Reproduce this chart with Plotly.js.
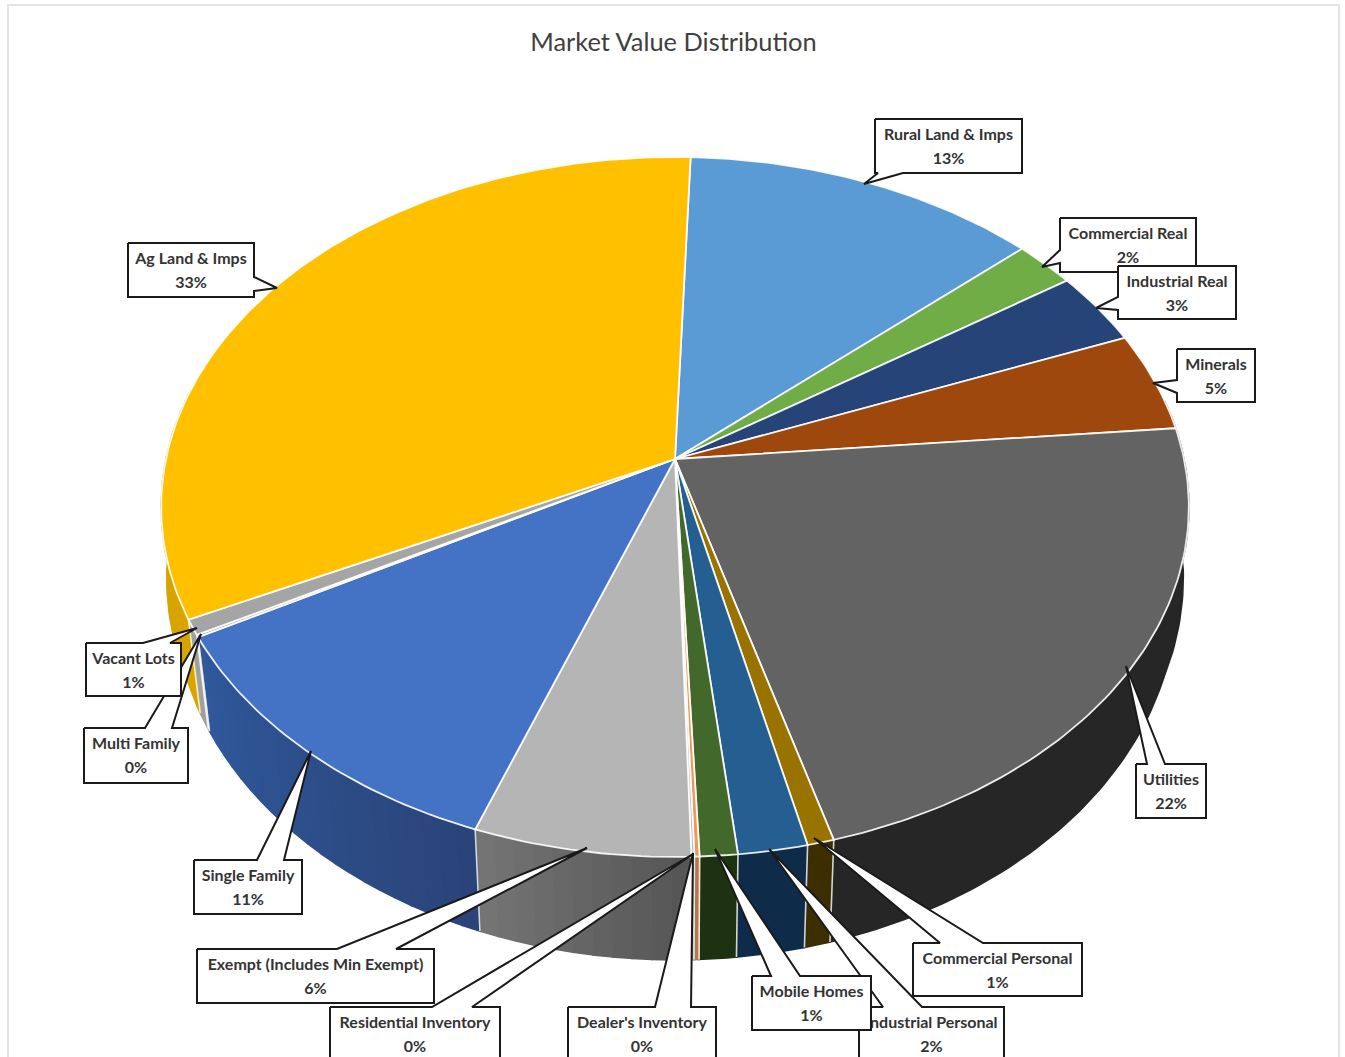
<!DOCTYPE html>
<html>
<head>
<meta charset="utf-8">
<script src="https://cdn.plot.ly/plotly-3.0.1.min.js"></script>
<style>html,body{margin:0;padding:0;background:#fff;overflow:hidden}</style>
</head>
<body>
<div id="chart" style="width:1345px;height:1057px"></div>
<script>
// Slices, clockwise from the top of the pie
const sliceNames = ["Rural Land & Imps","Commercial Real","Industrial Real","Minerals","Utilities","Commercial Personal","Industrial Personal","Mobile Homes","Dealer's Inventory","Residential Inventory","Exempt (Includes Min Exempt)","Single Family","Multi Family","Vacant Lots","Ag Land & Imps"];
const sliceValues = [12.8,2.2,3.4,4.6,22.08,0.74,1.92,1.04,0.14,0.08,6.0,11.4,0.1,0.7,32.8];
const sliceLabels = ["13%","2%","3%","5%","22%","1%","2%","1%","0%","0%","6%","11%","0%","1%","33%"];
const topColors = ["#5B9BD5","#70AD47","#264478","#9E480E","#636363","#997300","#255E91","#43682B","#F1975A","#B7B7B7","#B5B5B5","#4472C4","#A5A5A5","#A5A5A5","#FFC000"];
const sideStart = ["#3F6F99","#4F7A32","#1B3055","#70330A","#262626","#3D2E00","#0F2B4A","#1D3211","#B5774C","#8A8A8A","#545454","#2A4478","#A0A0A0","#A0A0A0","#D9A300"];
const sideEnd   = ["#3F6F99","#4F7A32","#1B3055","#70330A","#262626","#3D2E00","#0F2B4A","#1D3211","#B5774C","#8A8A8A","#757575","#30589B","#A0A0A0","#A0A0A0","#D9A300"];

// Projection of the tilted pie onto the page
const view = {cx:675, cy:459, A:509, B:343.4, k:0.137, sx:0.976, sxWide:0.016, sy:1.04, dy:87, start:2};
function rim(deg, lower){
  const t = deg*Math.PI/180, u = Math.sin(t), v = -Math.cos(t), w = 1 - view.k*v;
  const X = u*view.A/w, Y = v*view.B/w;
  if(!lower) return [view.cx + X, view.cy + Y];
  const sx = view.sx + view.sxWide*Math.min(1,Math.max(0,(130-Y)/110));
  return [view.cx + X*sx, view.cy + Y*view.sy + view.dy];
}
function arc(a0, a1, lower){
  const n = Math.max(1, Math.ceil(Math.abs(a1-a0))), pts = [];
  for(let i=0;i<=n;i++) pts.push(rim(a0+(a1-a0)*i/n, lower));
  return pts;
}
function hex(c){return [1,3,5].map(i=>parseInt(c.substr(i,2),16));}
function mix(a,b,f){const A=hex(a),B=hex(b);return "rgb("+A.map((x,i)=>Math.round(x+(B[i]-x)*f)).join(",")+")";}
function poly(pts, fill, line, width){
  const xs = pts.map(p=>p[0]), ys = pts.map(p=>p[1]);
  xs.push(xs[0]); ys.push(ys[0]);
  return {type:"scatter",mode:"lines",x:xs,y:ys,fill:fill?"toself":"none",fillcolor:fill||undefined,
          line:{color:line,width:width},hoverinfo:"skip",showlegend:false};
}

const traces = [];
const total = sliceValues.reduce((a,b)=>a+b,0);
const bounds = [view.start];
sliceValues.forEach(v=>bounds.push(bounds[bounds.length-1]+v/total*360));

// Side wall, in short strips so that the shading runs along the wall
sliceValues.forEach((v,i)=>{
  const a0 = Math.max(bounds[i],80), a1 = Math.min(bounds[i+1],282);
  if(a1<=a0) return;
  const uniform = sideStart[i]===sideEnd[i];
  const n = uniform ? 1 : Math.ceil((a1-a0)/2);
  for(let s=0;s<n;s++){
    const p = a0+(a1-a0)*s/n, q = a0+(a1-a0)*(s+1)/n;
    const col = mix(sideStart[i],sideEnd[i],(s+0.5)/n);
    traces.push(poly(arc(p,q,false).concat(arc(q,p,true)),col,col,1.6));
  }
});
// Pale seams between wall sections
sliceValues.forEach((v,i)=>{
  if(bounds[i]>=150 && bounds[i]<=282) traces.push({type:"scatter",mode:"lines",
     x:[rim(bounds[i],false)[0],rim(bounds[i],true)[0]],y:[rim(bounds[i],false)[1],rim(bounds[i],true)[1]],
     line:{color:"rgba(255,255,255,0.8)",width:1.6},hoverinfo:"skip",showlegend:false});
});

// Top face
sliceValues.forEach((v,i)=>{
  const pts = [[view.cx,view.cy]].concat(arc(bounds[i],bounds[i+1],false));
  traces.push(poly(pts,topColors[i],"rgba(255,255,255,0.9)",1.8));
});

// Callout boxes: x0,y0,x1,y1, side of the pointer, its base on that side, and its tip
const callouts = {
 "Ag Land & Imps":[128,243,254,297,"r",277,291,277,288],
 "Rural Land & Imps":[875,119,1022,173,"b",878,903,864,184],
 "Commercial Real":[1060,218,1196,272,"l",250,263,1042,267],
 "Industrial Real":[1118,266,1236,319,"l",297,310,1096,308],
 "Minerals":[1177,349,1255,402,"l",380,393,1153,383],
 "Utilities":[1136,764,1206,818,"t",1147,1165,1126,666],
 "Commercial Personal":[913,943,1082,996,"t",940,983,814,838],
 "Industrial Personal":[859,1007,1004,1064,"t",883,922,769,849],
 "Mobile Homes":[752,976,871,1030,"t",771,800,715,849],
 "Dealer's Inventory":[568,1007,716,1064,"t",655,691,693,853],
 "Exempt (Includes Min Exempt)":[197,949,434,1003,"t",337,396,587,848],
 "Residential Inventory":[330,1007,500,1064,"t",432,472,693,854],
 "Single Family":[194,860,302,914,"t",257,284,311,751],
 "Multi Family":[84,728,188,783,"t",145,172,201,634],
 "Vacant Lots":[86,643,181,696,"t",143,170,197,628]
};
Object.keys(callouts).forEach(name=>{
  const [x0,y0,x1,y1,side,a,b,tx,ty] = callouts[name];
  let pts;
  if(side==="t") pts=[[x0,y0],[a,y0],[tx,ty],[b,y0],[x1,y0],[x1,y1],[x0,y1]];
  if(side==="b") pts=[[x0,y0],[x1,y0],[x1,y1],[b,y1],[tx,ty],[a,y1],[x0,y1]];
  if(side==="l") pts=[[x0,y0],[x1,y0],[x1,y1],[x0,y1],[x0,b],[tx,ty],[x0,a]];
  if(side==="r") pts=[[x0,y0],[x1,y0],[x1,a],[tx,ty],[x1,b],[x1,y1],[x0,y1]];
  traces.push(poly(pts,"#ffffff","#1a1a1a",2));
  const i = sliceNames.indexOf(name);
  const xm = (x0+x1)/2, ym = y0+28;
  traces.push({type:"scatter",mode:"text",x:[xm,xm],y:[ym-11,ym+13],
    text:[name,sliceLabels[i]],textposition:"middle center",
    textfont:{family:"Lato, sans-serif",size:16,weight:700,color:"#333333"},hoverinfo:"skip",showlegend:false});
});

const layout = {
  width:1345,height:1057,autosize:false,
  margin:{l:0,r:0,t:0,b:0},
  paper_bgcolor:"#ffffff",plot_bgcolor:"#ffffff",
  title:{text:"Market Value Distribution",x:673.5/1345,xanchor:"center",y:1-42/1057,yanchor:"middle",
         font:{family:"Lato, sans-serif",size:25.4,color:"#404040"}},
  xaxis:{range:[0,1345],visible:false,fixedrange:true},
  yaxis:{range:[1057,0],visible:false,fixedrange:true},
  shapes:[{type:"rect",xref:"x",yref:"y",x0:8,y0:5,x1:1339,y1:1070,line:{color:"#E4E4E4",width:2},layer:"below"}],
  showlegend:false
};
Plotly.newPlot("chart",traces,layout,{displayModeBar:false,responsive:false});
</script>
</body>
</html>
